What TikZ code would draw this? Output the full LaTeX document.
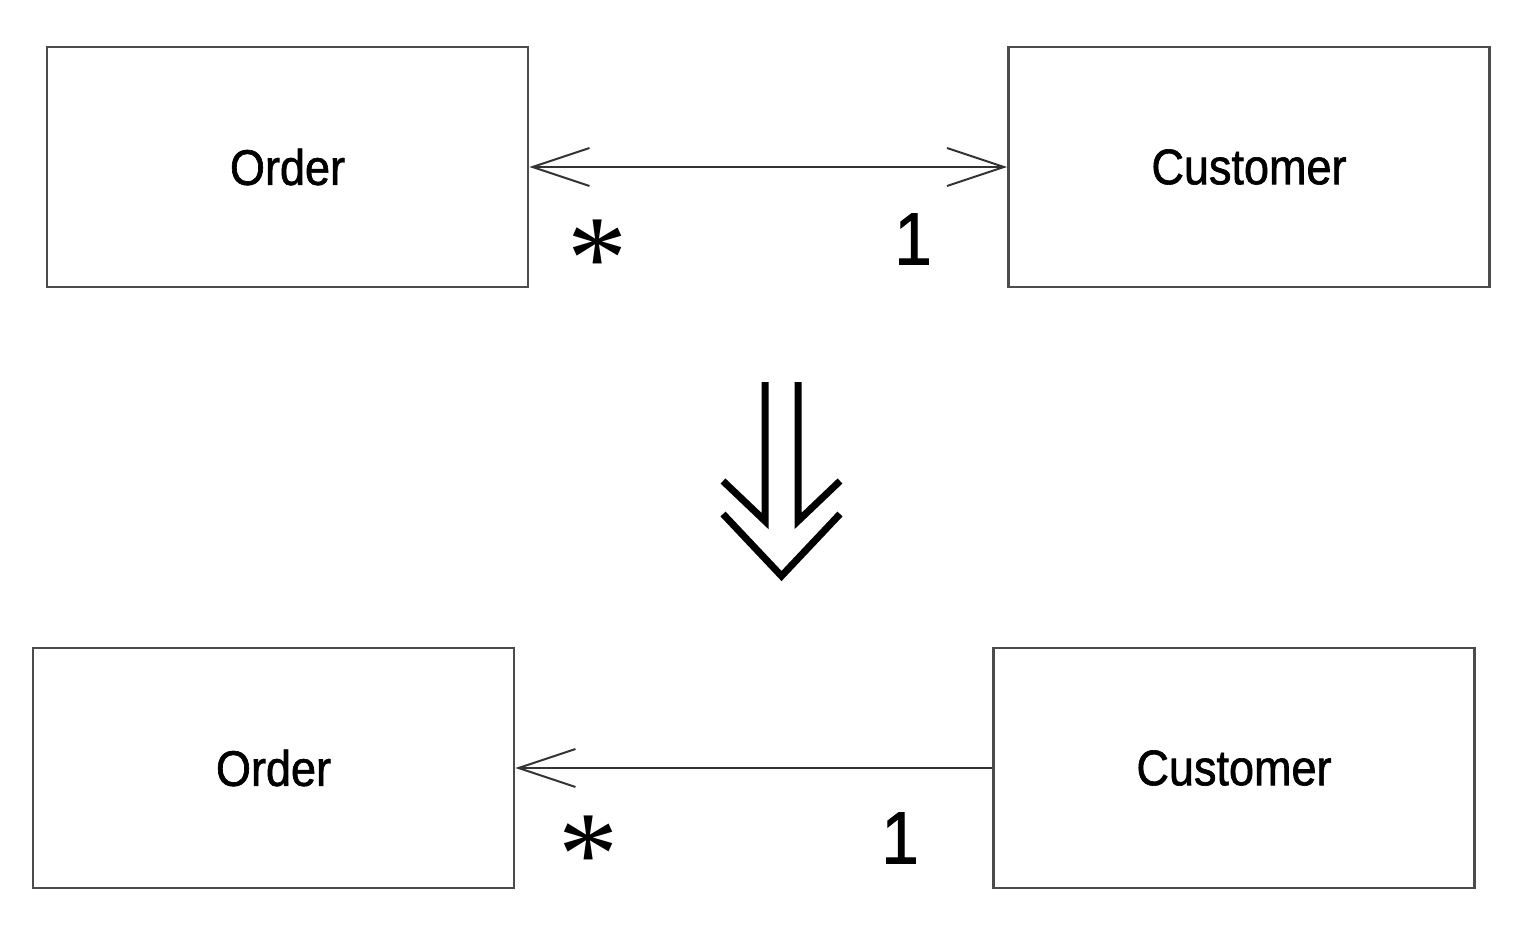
\documentclass[tikz,border=0pt]{standalone}
\usepackage{fontspec}
\setmainfont{Liberation Sans}[FakeStretch=0.9,FakeBold=1.3]
\newfontfamily\starfont{Liberation Serif}
\usetikzlibrary{arrows.meta}
\tikzset{
  cls/.style={draw=black!70, line width=2.6pt, inner sep=0pt, minimum width=481pt, minimum height=240pt,
    font=\fontsize{50}{50}\selectfont},
  assoc/.style={draw=black!80, line width=2.6pt},
  barb/.tip={Straight Barb[length=57pt,width=38pt,line width=2pt]},
  mult/.style={inner sep=0pt, font=\fontsize{74}{74}\selectfont},
  star/.style={inner sep=0pt, anchor=base, font=\starfont\fontsize{120}{120}\selectfont}
}
\begin{document}
\begin{tikzpicture}[x=1pt,y=-1pt]
\useasboundingbox (0,0) rectangle (1516,930);
% top
\node[cls] (o1) at (287.5,167) {Order};
\node[cls] (c1) at (1249,167) {Customer};
\draw[assoc, barb-barb] (o1.east) -- (c1.west);
\node[star] (s1) at (597,298) {*};
\node[mult] (m1) at (913,239) {1};
% big arrow
\coordinate (aL) at (765,382);
\coordinate (aR) at (798,382);
\draw[line width=7pt] (aL) -- (765,521) -- (723,481);
\draw[line width=7pt] (aR) -- (798,521) -- (840,481);
\draw[line width=7pt] (723,514) -- (781.5,576) -- (840,514);
% bottom
\node[cls] (o2) at (273.5,768) {Order};
\node[cls] (c2) at (1234,768) {Customer};
\draw[assoc, barb-] (o2.east) -- (c2.west);
\node[star] (s2) at (588,894) {*};
\node[mult] (m2) at (900,838) {1};
\end{tikzpicture}
\end{document}
